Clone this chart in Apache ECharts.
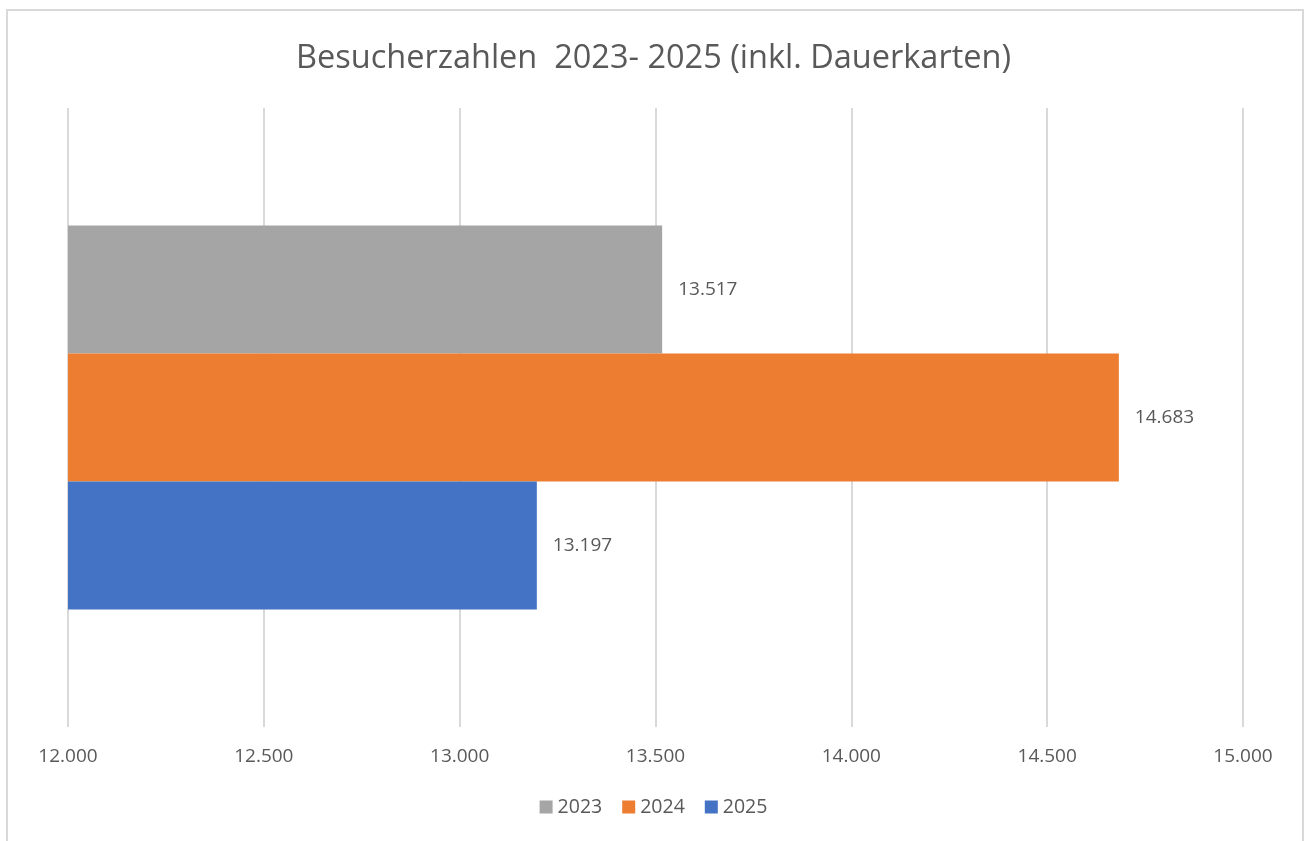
<!DOCTYPE html>
<html>
<head>
<meta charset="utf-8">
<script src="https://cdn.jsdelivr.net/npm/echarts@6/dist/echarts.min.js"></script>
<style>
  html, body { margin: 0; padding: 0; background: #fff; }
  #chart { width: 1307px; height: 841px; }
</style>
</head>
<body>
<div id="chart"></div>
<script>
var categories = ['Besucher'];
var years = ['2023', '2024', '2025'];
var values2023 = [13517];
var values2024 = [14683];
var values2025 = [13197];
var colors = { '2023': '#a5a5a5', '2024': '#ed7d31', '2025': '#4472c4' };

function fmt(v) {
    return String(Math.round(v)).replace(/\B(?=(\d{3})+(?!\d))/g, '.');
}

var font = '"Open Sans", Lato, sans-serif';

function barSeries(name, data) {
    return {
        name: name,
        type: 'bar',
        data: data,
        barGap: '0%',
        barCategoryGap: '38%',
        itemStyle: { color: colors[name] },
        label: {
            show: true,
            position: 'right',
            distance: 16,
            color: '#595959',
            fontSize: 19,
            fontFamily: font,
            formatter: function (p) { return fmt(p.value); }
        }
    };
}

var chart = echarts.init(document.getElementById('chart'));

chart.setOption({
    animation: false,
    title: {
        text: 'Besucherzahlen  2023- 2025 (inkl. Dauerkarten)',
        left: 'center',
        top: 37,
        textStyle: { color: '#595959', fontSize: 32.5, fontWeight: 'normal', fontFamily: font }
    },
    legend: {
        data: years,
        bottom: 19,
        left: 'center',
        itemWidth: 13,
        itemHeight: 13,
        itemGap: 20,
        icon: 'rect',
        textStyle: { color: '#595959', fontSize: 19.5, fontFamily: font }
    },
    grid: { left: 68, right: 64, top: 108, bottom: 114, containLabel: false },
    xAxis: {
        type: 'value',
        min: 12000,
        max: 15000,
        interval: 500,
        axisLine: { show: false },
        axisTick: { show: false },
        splitLine: { lineStyle: { color: '#d9d9d9', width: 2 } },
        axisLabel: {
            color: '#595959',
            fontSize: 19,
            fontFamily: font,
            margin: 20,
            formatter: fmt
        }
    },
    yAxis: {
        type: 'category',
        data: categories,
        axisLine: { show: false },
        axisTick: { show: false },
        axisLabel: { show: false }
    },
    graphic: [{
        type: 'rect',
        shape: { x: 7, y: 10, width: 1296, height: 850 },
        style: { fill: 'none', stroke: '#d9d9d9', lineWidth: 2 },
        silent: true
    }],
    series: [
        barSeries('2023', values2023),
        barSeries('2024', values2024),
        barSeries('2025', values2025)
    ]
});
</script>
</body>
</html>
